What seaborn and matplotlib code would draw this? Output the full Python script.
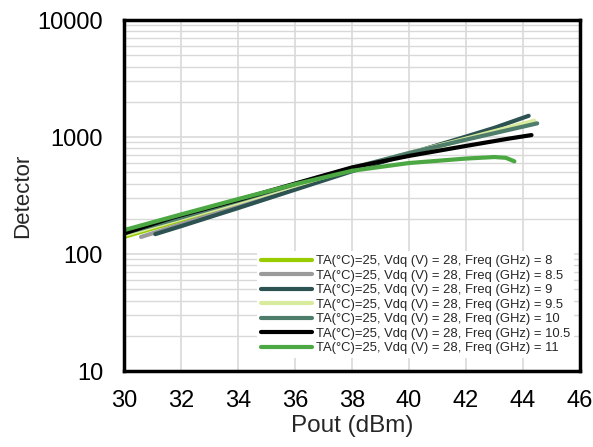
import numpy as np
import pandas as pd
import matplotlib
matplotlib.use("Agg")
import matplotlib.pyplot as plt
import seaborn as sns
from matplotlib.ticker import LogLocator, FixedLocator, NullFormatter

freqs = ["8", "8.5", "9", "9.5", "10", "10.5", "11"]
colors = ["#99cc00", "#9a9a9a", "#2c5252", "#d8eb9c", "#4e7d6b", "#000000", "#4ca843"]

x_8 = [30.0, 32, 34, 36, 38, 40, 42, 44.3]
y_8 = [140, 195, 270, 380, 530, 720, 960, 1340]
x_85 = [30.6, 32, 34, 36, 38, 40, 42, 44.3]
y_85 = [140, 180, 255, 370, 530, 730, 980, 1320]
x_9 = [31.1, 32, 34, 36, 38, 40, 42, 43, 44.2]
y_9 = [148, 173, 247, 355, 510, 720, 1010, 1200, 1520]
x_95 = [30.0, 32, 34, 36, 38, 40, 42, 44.4]
y_95 = [145, 200, 275, 385, 535, 730, 970, 1380]
x_10 = [30.0, 32, 34, 36, 38, 40, 42, 44.5]
y_10 = [150, 205, 285, 395, 545, 730, 950, 1310]
x_105 = [30.0, 31.7, 34, 36, 38, 40, 42, 43.5, 44.3]
y_105 = [150, 205, 290, 400, 550, 690, 840, 970, 1040]
x_11 = [30.0, 32, 34, 36, 38, 40, 42, 43, 43.4, 43.7]
y_11 = [160, 218, 295, 395, 515, 600, 655, 675, 665, 620]

xs = [x_8, x_85, x_9, x_95, x_10, x_105, x_11]
ys = [y_8, y_85, y_9, y_95, y_10, y_105, y_11]

rows = []
for f, xx, yy in zip(freqs, xs, ys):
    lab = f"TA(°C)=25, Vdq (V) = 28, Freq (GHz) = {f}"
    for a, b in zip(xx, yy):
        rows.append({"Pout": a, "Detector": b, "series": lab})
df = pd.DataFrame(rows)
labels = [f"TA(°C)=25, Vdq (V) = 28, Freq (GHz) = {f}" for f in freqs]

sns.set_style("white")
plt.rcParams["font.family"] = ["Liberation Sans", "DejaVu Sans"]

fig = plt.figure(figsize=(5.93, 4.47), dpi=100)
ax = fig.add_axes([0.209, 0.170, 0.769, 0.785])

sns.lineplot(data=df, x="Pout", y="Detector", hue="series", hue_order=labels,
             palette=colors, linewidth=3.0, ax=ax, sort=True, estimator=None,
             solid_capstyle="round")

ax.set_yscale("log")
ax.set_xlim(30, 46)
ax.set_ylim(10, 10000)
ax.set_xticks(range(30, 47, 2))
ax.yaxis.set_major_locator(FixedLocator([10, 100, 1000, 10000]))
ax.set_yticklabels(["10", "100", "1000", "10000"])
ax.yaxis.set_minor_locator(LogLocator(base=10, subs=np.arange(2, 10)))
ax.yaxis.set_minor_formatter(NullFormatter())

ax.grid(True, which="major", axis="both", color="#d9d9d9", linewidth=1.2)
ax.grid(True, which="minor", axis="y", color="#d9d9d9", linewidth=1.0)
ax.set_axisbelow(True)

for s in ax.spines.values():
    s.set_linewidth(2.5)
    s.set_color("black")

ax.tick_params(axis="both", which="major", direction="in", length=5, width=1.2,
               labelsize=17, colors="black")
ax.tick_params(axis="x", which="major", pad=14)
ax.tick_params(axis="y", which="major", pad=15)
ax.tick_params(axis="y", which="minor", length=0)
ax.set_xlabel("Pout (dBm)", fontsize=17.5, labelpad=2)
ax.set_ylabel("Detector", fontsize=16, labelpad=3)

leg = ax.legend(loc="lower right", bbox_to_anchor=(0.995, 0.025), fontsize=9.4,
                frameon=True, framealpha=1.0, edgecolor="white", fancybox=False,
                handlelength=3.85, labelspacing=0.185, handletextpad=0.3,
                borderaxespad=0.3, borderpad=0.3)
leg.get_frame().set_linewidth(0)
for h in leg.get_lines():
    h.set_linewidth(3.0)

fig.savefig("out.png", dpi=100)
